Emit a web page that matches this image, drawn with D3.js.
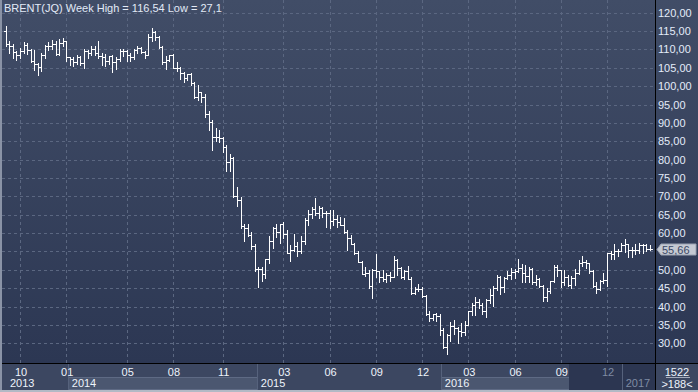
<!DOCTYPE html>
<html>
<head>
<meta charset="utf-8">
<script src="https://cdn.jsdelivr.net/npm/d3@7"></script>
<style>
  body { margin: 0; background: #2f3a55; }
  svg { display: block; }
  text { font-family: "Liberation Sans Narrow", "Liberation Sans", Arial, sans-serif; font-size: 11px; }
</style>
</head>
<body>
<svg id="chart" width="698" height="392"></svg>
<script>
// weekly bars [open, high, low, close], one per Friday
const ohlc2013 = [
  [115.0,116.5,111.0,111.6],[111.6,112.2,108.9,110.9],[110.9,111.5,107.8,109.2],[109.2,109.6,107.2,108.6],
  [108.6,110.4,107.6,109.5],[109.5,111.9,108.9,111.3],[111.3,111.7,108.7,109.9],[109.9,110.0,106.5,106.9],
  [106.9,109.8,104.5,105.9],[105.9,106.4,103.0,105.1],[105.1,108.9,104.0,108.5],[108.5,111.2,107.6,111.0],
  [111.0,112.0,109.9,110.8],[110.8,112.5,110.0,111.6],[111.6,112.3,108.4,108.8],[108.8,112.8,108.4,111.8],
  [111.8,113.0,111.0,112.2]
];
const ohlc2014 = [
  [112.2,112.4,106.9,107.9],[107.9,108.0,105.8,107.3],[107.3,107.9,105.6,106.5],[106.5,108.6,105.9,107.9],
  [107.9,108.3,105.8,106.4],[106.4,110.0,104.9,109.6],[109.6,109.9,107.8,109.1],[109.1,110.8,108.5,110.0],
  [110.0,110.9,108.5,109.1],[109.1,112.4,107.8,108.1],[108.1,108.9,105.8,108.0],[108.0,108.7,105.4,106.9],
  [106.9,108.3,105.9,108.1],[108.1,108.4,103.9,106.7],[106.7,107.9,104.7,107.3],[107.3,110.1,106.9,109.5],
  [109.5,110.1,108.2,109.6],[109.6,109.8,106.9,108.6],[108.6,108.9,106.8,107.9],[107.9,110.2,107.5,109.8],
  [109.8,110.9,109.0,110.5],[110.5,110.6,108.9,109.4],[109.4,109.7,107.8,108.6],[108.6,114.1,108.5,113.4],
  [113.4,115.9,112.3,114.8],[114.8,114.9,112.5,113.3],[113.3,113.7,110.5,110.6],[110.6,110.8,106.0,106.7],
  [106.7,108.3,104.6,107.2],[107.2,108.6,106.8,108.4],[108.4,108.8,104.9,105.0],[105.0,106.5,104.2,105.0],
  [105.0,105.3,101.9,103.5],[103.5,103.8,101.2,102.3],[102.3,103.4,101.8,103.2],[103.2,103.6,100.3,100.8],
  [100.8,101.0,96.9,97.1],[97.1,100.3,96.2,98.4],[98.4,98.5,95.8,97.0],[97.0,97.9,91.6,92.3],
  [92.3,93.2,88.2,90.2],[90.2,90.7,82.6,86.2],[86.2,88.6,85.0,86.1],[86.1,88.0,84.9,85.9],
  [85.9,86.1,82.1,83.4],[83.4,84.1,76.8,79.4],[79.4,81.4,76.8,80.4],[80.4,80.6,69.8,70.2],
  [70.2,72.5,67.5,69.1],[69.1,69.8,61.3,61.9],[61.9,62.5,57.9,61.4],[61.4,62.5,59.1,59.5]
];
const ohlc2015 = [
  [59.5,60.3,55.8,56.4],[56.4,57.0,49.7,50.1],[50.1,50.7,45.2,50.2],[50.2,50.8,46.9,48.8],
  [48.8,53.0,47.7,53.0],[53.0,59.1,51.9,57.8],[57.8,61.6,55.9,61.5],[61.5,62.6,58.9,60.2],
  [60.2,62.6,57.3,62.6],[62.6,63.0,58.6,59.7],[59.7,60.9,54.7,54.7],[54.7,56.7,52.5,55.3],
  [55.3,59.7,55.1,56.4],[56.4,57.5,53.7,55.0],[55.0,59.2,54.6,57.9],[57.9,64.0,57.1,63.5],
  [63.5,66.3,62.1,65.3],[65.3,67.1,64.2,66.5],[66.5,69.6,64.8,65.4],[65.4,67.5,64.2,66.8],
  [66.8,67.0,64.4,65.4],[65.4,65.9,61.6,65.6],[65.6,66.3,61.5,63.3],[63.3,66.2,62.3,63.9],
  [63.9,64.8,61.7,63.0],[63.0,64.4,62.3,62.3],[62.3,64.0,59.9,60.3],[60.3,60.9,55.5,58.7],
  [58.7,59.5,56.9,57.1],[57.1,57.3,54.2,54.6],[54.6,55.0,52.2,52.2],[52.2,52.4,48.8,49.0],
  [49.0,50.8,48.3,49.2],[49.2,49.9,45.1,45.5],[45.5,50.2,42.2,50.0],[50.0,54.3,48.1,49.6],
  [49.6,49.8,46.6,48.1],[48.1,50.0,47.0,47.5],[47.5,49.1,46.6,48.6],[48.6,49.3,47.0,48.1],
  [48.1,53.8,48.0,52.6],[52.6,52.9,48.7,50.5],[50.5,50.9,47.9,48.0],[48.0,49.9,47.4,49.6],
  [49.6,51.0,47.4,47.4],[47.4,48.0,43.3,43.6],[43.6,45.3,43.3,44.7],[44.7,46.2,44.2,44.9],
  [44.9,45.2,42.6,43.0],[43.0,43.2,37.8,37.9],[37.9,38.8,36.2,36.9],[36.9,38.1,36.4,38.1]
];
const ohlc2016 = [
  [38.1,38.2,36.0,37.3],[37.3,37.9,32.2,33.6],[33.6,34.3,28.8,28.9],[28.9,32.4,27.1,32.2],
  [32.2,35.8,30.5,34.7],[34.7,36.3,32.6,34.1],[34.1,34.4,30.0,33.4],[33.4,35.6,31.9,33.0],
  [33.0,36.0,32.2,35.1],[35.1,38.9,35.0,38.7],[38.7,41.0,37.7,40.4],[40.4,42.5,37.6,41.2],
  [41.2,42.0,39.6,40.4],[40.4,41.0,38.1,38.7],[38.7,42.1,37.1,41.9],[41.9,44.7,41.0,43.1],
  [43.1,45.6,40.1,45.1],[45.1,48.5,44.5,48.1],[48.1,48.2,43.5,45.4],[45.4,48.1,44.0,47.8],
  [47.8,49.6,47.4,48.7],[48.7,50.5,47.6,49.3],[49.3,50.1,47.8,49.6],[49.6,52.9,49.3,50.5],
  [50.5,51.5,46.6,49.2],[49.2,51.2,46.7,48.4],[48.4,50.8,46.8,50.3],[50.3,50.6,46.1,46.8],
  [46.8,48.6,45.9,47.6],[47.6,47.7,45.4,45.7],[45.7,45.9,41.5,42.5],[42.5,45.1,41.5,44.3],
  [44.3,47.0,43.6,47.0],[47.0,51.2,46.6,50.9],[50.9,51.2,48.4,49.9],[49.9,50.0,45.4,46.8],
  [46.8,49.9,46.0,48.0],[48.0,48.7,45.6,45.8],[45.8,48.4,45.0,47.9],[47.9,50.2,45.9,49.2],
  [49.2,52.8,49.0,51.9],[51.9,53.7,51.1,52.0],[52.0,52.8,50.5,51.8],[51.8,51.9,49.1,49.7],
  [49.7,50.0,45.2,45.6],[45.6,46.8,43.6,44.7],[44.7,47.3,44.6,46.9],[46.9,49.2,46.3,47.2],
  [47.2,54.5,45.6,54.5],[54.5,55.0,52.9,54.3],[54.3,56.9,53.0,55.2],[55.2,55.7,53.9,55.2],
  [55.2,57.3,55.0,56.8]
];
const ohlc2017 = [
  [56.8,58.4,54.8,57.1],[57.1,57.1,53.6,55.4],[55.4,56.2,53.6,55.5],[55.5,57.0,54.4,55.5],
  [55.5,57.3,54.7,56.8],[56.8,57.1,54.6,56.7],[56.7,56.9,55.1,55.8],[55.8,56.8,55.3,55.66]
];

const priceTicks = [30, 35, 40, 45, 50, 55, 60, 65, 70, 75, 80, 85, 90, 95, 100, 105, 110, 115, 120];
const monthTicks = ["2013-10-04", "2014-01-03", "2014-05-02", "2014-08-01", "2014-11-07", "2015-03-06",
  "2015-06-05", "2015-09-04", "2015-12-04", "2016-03-04", "2016-06-03", "2016-09-02", "2016-12-02"];
const yearLabels = ["2013", "2014", "2015", "2016", "2017"];
const yearStarts = ["2013-08-20", "2014-01-06", "2015-01-13", "2016-01-10", "2016-12-31"];
const shadeStart = "2016-09-19";
const lastPrice = 55.66;
const titleText = "BRENT(JQ) Week High = 116,54 Low = 27,1";

const W = 698, H = 392;
const plotRight = 655, plotBottom = 363;
const parse = d3.timeParse("%Y-%m-%d");
const fmt = d3.format(".2f");
const comma = v => fmt(v).replace(".", ",");

const ohlc = [].concat(ohlc2013, ohlc2014, ohlc2015, ohlc2016, ohlc2017);
const dates = d3.timeFriday.range(new Date(2013, 8, 6), new Date(2017, 1, 25));
const bars = ohlc.map((v, i) => ({ date: dates[i], o: v[0], h: v[1], l: v[2], c: v[3] }));

const x = d3.scaleTime()
  .domain([parse("2013-10-04"), parse("2016-12-02")])
  .range([20, 607]);
const y = d3.scaleLinear()
  .domain([30, 120])
  .range([343.3, 12.7]);

const svg = d3.select("#chart");
const defs = svg.append("defs");
const grad = defs.append("linearGradient").attr("id", "bg").attr("x1", 0).attr("y1", 0).attr("x2", 0).attr("y2", 1);
grad.append("stop").attr("offset", "0%").attr("stop-color", "#414d67");
grad.append("stop").attr("offset", "100%").attr("stop-color", "#2c3753");
defs.append("clipPath").attr("id", "clip")
  .append("rect").attr("x", 2).attr("y", 0).attr("width", plotRight - 2).attr("height", plotBottom);

// backgrounds
svg.append("rect").attr("width", W).attr("height", plotBottom).attr("fill", "url(#bg)");
svg.append("rect").attr("y", plotBottom).attr("width", W).attr("height", H - plotBottom).attr("fill", "#3c4761");

const px = v => Math.round(v) + 0.5;

// grid
const grid = svg.append("g").attr("stroke", "#5b6781").attr("stroke-dasharray", "3,3")
  .attr("shape-rendering", "crispEdges");
grid.selectAll("line.h").data(priceTicks).join("line")
  .attr("x1", 2).attr("x2", plotRight)
  .attr("y1", d => px(y(d))).attr("y2", d => px(y(d)));
grid.selectAll("line.v").data(monthTicks).join("line")
  .attr("x1", d => px(x(parse(d)))).attr("x2", d => px(x(parse(d))))
  .attr("y1", 0).attr("y2", plotBottom);

// OHLC bars
const g = svg.append("g").attr("clip-path", "url(#clip)")
  .attr("stroke", "#ffffff").attr("shape-rendering", "crispEdges");
g.selectAll("line.hl").data(bars).join("line")
  .attr("x1", d => px(x(d.date))).attr("x2", d => px(x(d.date)))
  .attr("y1", d => Math.round(y(d.h))).attr("y2", d => Math.round(y(d.l)) + 1);
g.selectAll("line.o").data(bars).join("line")
  .attr("x1", d => Math.round(x(d.date)) - 2).attr("x2", d => Math.round(x(d.date)))
  .attr("y1", d => px(y(d.o))).attr("y2", d => px(y(d.o)));
g.selectAll("line.c").data(bars).join("line")
  .attr("x1", d => Math.round(x(d.date)) + 1).attr("x2", d => Math.round(x(d.date)) + 3)
  .attr("y1", d => px(y(d.c))).attr("y2", d => px(y(d.c)));

// price axis on the right (the label under the last-price marker is hidden)
const ly = Math.round(y(lastPrice)) + 0.5;
svg.append("g").selectAll("text")
  .data(priceTicks.filter(d => Math.abs(y(d) - ly) > 9))
  .join("text")
  .attr("x", 658).attr("y", d => y(d) + 4)
  .attr("fill", "#e4ecfa")
  .text(comma);

// last price marker
svg.append("path")
  .attr("d", `M657,${ly} L661,${ly - 5.5} L696,${ly - 5.5} L696,${ly + 5.5} L661,${ly + 5.5} Z`)
  .attr("fill", "#c4c9d2").attr("stroke", "#9aa2b2");
svg.append("text").attr("x", 662).attr("y", ly + 4).attr("fill", "#3a4866").text(comma(lastPrice));

// time axis: year bands
const xs = yearStarts.map(d => x(parse(d)));
const bandEnd = [xs[1], xs[2], xs[3], x(parse(shadeStart)), plotRight];
const bands = svg.append("g").attr("shape-rendering", "crispEdges");
bands.selectAll("rect").data(yearLabels).join("rect")
  .attr("x", (d, i) => px(Math.max(xs[i], 2)))
  .attr("y", 377.5)
  .attr("width", (d, i) => bandEnd[i] - Math.max(xs[i], 2))
  .attr("height", 12)
  .attr("fill", (d, i) => i % 2 === 1 ? "#4b5770" : "none")
  .attr("stroke", (d, i) => i % 2 === 1 ? "#5e6a84" : "none");
bands.append("rect")
  .attr("x", x(parse(shadeStart))).attr("y", plotBottom + 1)
  .attr("width", plotRight - x(parse(shadeStart))).attr("height", 26)
  .attr("fill", "#2c3651");
bands.selectAll("line").data(yearStarts.slice(1)).join("line")
  .attr("x1", d => px(x(parse(d)))).attr("x2", d => px(x(parse(d))))
  .attr("y1", plotBottom).attr("y2", 390)
  .attr("stroke", "#56627c");

const shadeX = x(parse(shadeStart));
svg.append("g").selectAll("text").data(monthTicks).join("text")
  .attr("x", d => x(parse(d)) + 1).attr("y", 376)
  .attr("text-anchor", "middle")
  .attr("fill", d => x(parse(d)) > shadeX ? "#7f8ba3" : "#eef3fb")
  .text(d => d3.timeFormat("%m")(parse(d)));
svg.append("g").selectAll("text").data(yearLabels).join("text")
  .attr("x", (d, i) => Math.max(xs[i], 6) + 4).attr("y", 387)
  .attr("fill", (d, i) => xs[i] > shadeX ? "#7f8ba3" : "#eef3fb")
  .text(d => d);

// frame lines
svg.append("line").attr("x1", px(plotRight)).attr("x2", px(plotRight)).attr("y1", 0).attr("y2", 390)
  .attr("stroke", "#000").attr("shape-rendering", "crispEdges");
svg.append("line").attr("x1", 0).attr("x2", W).attr("y1", px(plotBottom)).attr("y2", px(plotBottom))
  .attr("stroke", "#000").attr("shape-rendering", "crispEdges");
svg.append("rect").attr("x", 0).attr("y", 0).attr("width", 2).attr("height", H).attr("fill", "#8a93a6");
svg.append("rect").attr("x", 0).attr("y", 390).attr("width", W).attr("height", 2).attr("fill", "#b3b9c5");

// counter box bottom right
svg.append("text").attr("x", 677).attr("y", 376).attr("text-anchor", "middle").attr("fill", "#eef3fb").text("1522");
svg.append("line").attr("x1", 666).attr("x2", 690).attr("y1", 377.5).attr("y2", 377.5).attr("stroke", "#a3abbb");
svg.append("text").attr("x", 677).attr("y", 388).attr("text-anchor", "middle").attr("fill", "#eef3fb").text(">188<");

// title
svg.append("text").attr("x", 4).attr("y", 12).attr("fill", "#e2eaf7").text(titleText);
</script>
</body>
</html>
